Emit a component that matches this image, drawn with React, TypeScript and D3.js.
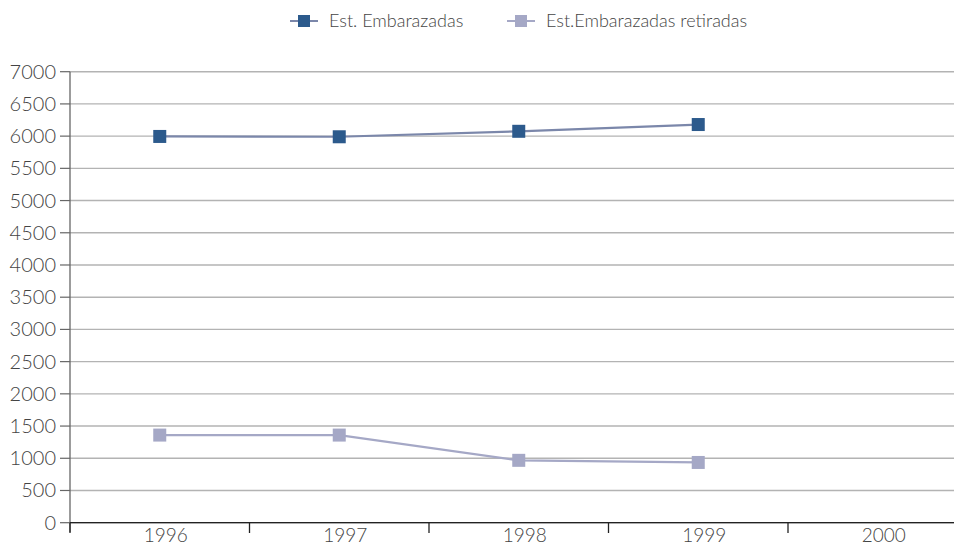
import React from "react";
import * as d3 from "d3";

const years = ["1996", "1997", "1998", "1999", "2000"];
const embarazadas = [5995, 5990, 6075, 6180];
const retiradas = [1360, 1360, 968, 935];
const yTicks = [0, 500, 1000, 1500, 2000, 2500, 3000, 3500, 4000, 4500, 5000, 5500, 6000, 6500, 7000];
const seriesNames = ["Est. Embarazadas", "Est.Embarazadas retiradas"];

const W = 954;
const H = 547;
const FONT = "Lato, 'Open Sans', sans-serif";

export default function App() {
  const x = d3.scaleBand<string>().domain(years).range([70, 967.5]);
  const y = d3.scaleLinear().domain([0, 7000]).range([522.7, 71.7]);
  const cx = (i: number) => (x(years[i]) as number) + x.bandwidth() / 2;
  const line = d3
    .line<number>()
    .x((_, i) => cx(i))
    .y((v) => y(v));

  const series = [
    { name: seriesNames[0], data: embarazadas, marker: "#2c5a8c", line: "#7b87aa" },
    { name: seriesNames[1], data: retiradas, marker: "#a5a8c6", line: "#a5a8c6" },
  ];
  const legendX = [290, 507];

  return (
    <svg width={W} height={H} style={{ position: "absolute", left: 0, top: 0, background: "#fff" }} fontFamily={FONT}>
      {/* gridlines */}
      {yTicks.map((t) => (
        <line key={"g" + t} x1={70} x2={W} y1={y(t)} y2={y(t)} stroke="#b3b3b3" strokeWidth={1.4} />
      ))}
      {/* y axis */}
      <line x1={70} x2={70} y1={y(7000)} y2={532} stroke="#666" strokeWidth={1.3} />
      {yTicks.map((t) => (
        <g key={"yt" + t}>
          <line x1={60} x2={70} y1={y(t)} y2={y(t)} stroke="#666" strokeWidth={1.2} />
          <text x={56} y={y(t)} dy="0.35em" textAnchor="end" fontSize={20} fontWeight={300} fill="#444">
            {t}
          </text>
        </g>
      ))}
      {/* x axis */}
      <line x1={70} x2={W} y1={y(0)} y2={y(0)} stroke="#222" strokeWidth={1.3} />
      {years.map((yr, i) => (
        <g key={"xt" + yr}>
          <line x1={x(yr) as number} x2={x(yr) as number} y1={y(0)} y2={533} stroke="#222" strokeWidth={1.3} />
          <text x={cx(i) + 6} y={542} textAnchor="middle" fontSize={19} fontWeight={300} fill="#444">
            {yr}
          </text>
        </g>
      ))}
      {/* series */}
      {series.map((s) => (
        <g key={s.name}>
          <path d={line(s.data) || ""} fill="none" stroke={s.line} strokeWidth={2.2} />
          {s.data.map((v, i) => (
            <rect key={i} x={cx(i) - 6.5} y={y(v) - 6.5} width={13} height={13} fill={s.marker} />
          ))}
        </g>
      ))}
      {/* legend */}
      {series.map((s, i) => (
        <g key={"lg" + s.name} transform={`translate(${legendX[i]},21)`}>
          <line x1={0} x2={28} y1={0} y2={0} stroke={s.line} strokeWidth={2} />
          <rect x={8} y={-6} width={12} height={12} fill={s.marker} />
          <text x={39} y={0} dy="0.35em" fontSize={18} fontWeight={300} fill="#444">
            {s.name}
          </text>
        </g>
      ))}
    </svg>
  );
}
